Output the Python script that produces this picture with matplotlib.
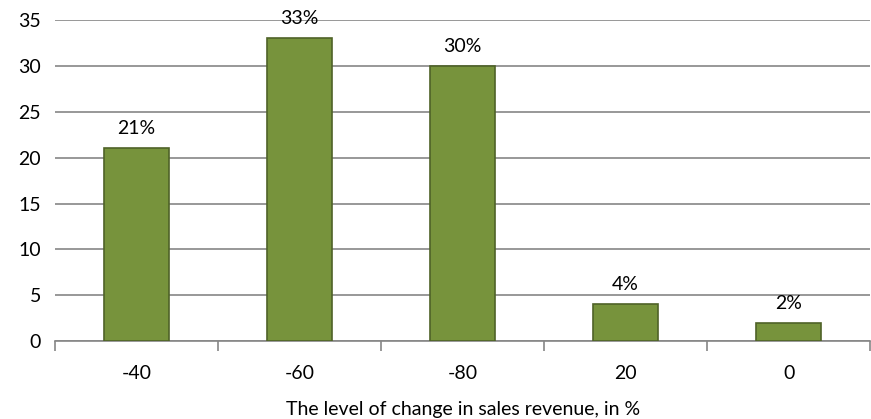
import matplotlib
matplotlib.use("Agg")
import matplotlib.pyplot as plt

categories = ["-40", "-60", "-80", "20", "0"]
values = [21, 33, 30, 4, 2]
labels = ["21%", "33%", "30%", "4%", "2%"]

plt.rcParams['font.family'] = ['Lato', 'DejaVu Sans']

fig = plt.figure(figsize=(8.71, 4.19), dpi=100)
ax = fig.add_axes([0.0631, 0.186, 0.936, 0.766])

x = list(range(len(categories)))
ax.bar(x, values, width=0.4, color="#77933C", edgecolor="#4F6228", linewidth=1.2, zorder=3)

for xi, v, lab in zip(x, values, labels):
    ax.text(xi, v + 1.2, lab, ha="center", va="bottom", fontsize=14, color="black")

ax.set_xlim(-0.5, len(categories) - 0.5)
ax.set_ylim(0, 35)
ax.set_yticks(range(0, 36, 5))
ax.yaxis.grid(True, color="#868686", linewidth=1.2, zorder=0)
ax.set_axisbelow(True)

ax.set_xticks(x)
ax.set_xticklabels(categories, fontsize=14)
ax.tick_params(axis="x", length=0, pad=17)
ax.set_xticks([i - 0.5 for i in range(len(categories) + 1)], minor=True)
ax.tick_params(axis="x", which="minor", length=7, width=1.2, color="#868686")
ax.tick_params(axis="y", length=0, labelsize=14, pad=10)

for s in ["top", "right", "left"]:
    ax.spines[s].set_visible(False)
ax.spines["bottom"].set_color("#868686")
ax.spines["bottom"].set_linewidth(1.2)

ax.set_xlabel("The level of change in sales revenue, in %", fontsize=14, labelpad=14)

fig.savefig("out.png", dpi=100)
